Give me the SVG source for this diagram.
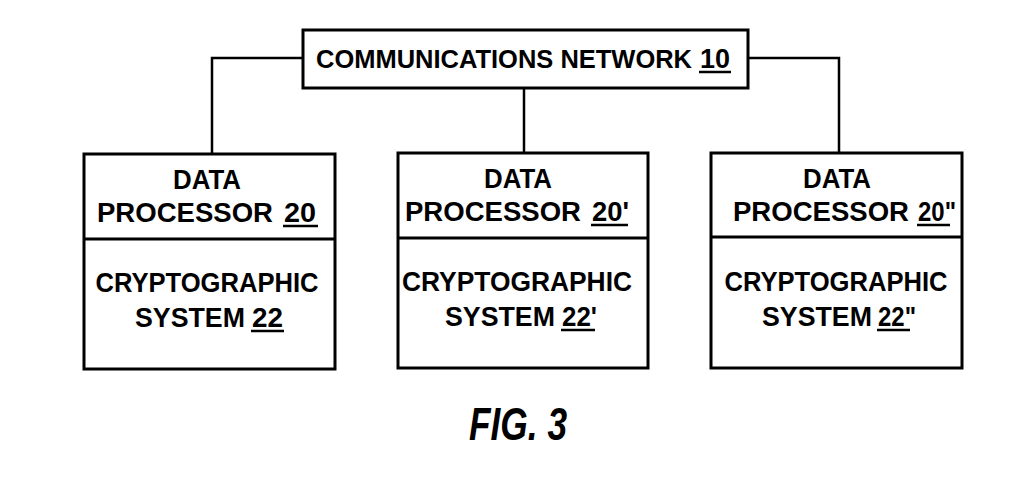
<svg xmlns="http://www.w3.org/2000/svg" width="1026" height="483" viewBox="0 0 1026 483">
<style>
.box{fill:none;stroke:#000;stroke-width:3}
.ln{fill:none;stroke:#000;stroke-width:2.5}
.u{stroke:#000;stroke-width:2.5}
.t{font-family:"Liberation Sans",Arial,sans-serif;font-weight:bold;font-size:27px;fill:#000;text-anchor:middle}
.s{font-family:"Liberation Sans",Arial,sans-serif;font-weight:bold;font-size:27px;fill:#000;text-anchor:start}
</style>
<rect width="1026" height="483" fill="#fff"/>
<g id="connectors">
<polyline class="ln" points="303,58 212,58 212,154"/>
<line class="ln" x1="524" y1="88" x2="524" y2="153"/>
<polyline class="ln" points="748,58 839,58 839,153"/>
</g>
<g id="network">
<rect class="box" x="303" y="30" width="445" height="58"/>
<text class="s" x="316" y="68" style="font-size:25.5px" textLength="376" lengthAdjust="spacingAndGlyphs">COMMUNICATIONS NETWORK</text>
<text class="s" x="700" y="68" style="font-size:28px" textLength="30" lengthAdjust="spacingAndGlyphs">10</text>
<line class="u" x1="699" y1="72" x2="731" y2="72"/>
</g>
<g id="dp20">
<rect class="box" x="84" y="154" width="251" height="215"/>
<line class="box" x1="84" y1="239" x2="335" y2="239"/>
<text class="t" x="207" y="189" textLength="68" lengthAdjust="spacingAndGlyphs">DATA</text>
<text class="s" x="97" y="222" textLength="176" lengthAdjust="spacingAndGlyphs">PROCESSOR</text>
<text class="s" x="284" y="222" textLength="32" lengthAdjust="spacingAndGlyphs">20</text>
<line class="u" x1="283" y1="226" x2="318" y2="226"/>
<text class="t" x="207" y="292" textLength="223" lengthAdjust="spacingAndGlyphs">CRYPTOGRAPHIC</text>
<text class="s" x="135" y="327" textLength="110" lengthAdjust="spacingAndGlyphs">SYSTEM</text>
<text class="s" x="252" y="327" textLength="31" lengthAdjust="spacingAndGlyphs">22</text>
<line class="u" x1="251" y1="331" x2="284" y2="331"/>
</g>
<g id="dp20p">
<rect class="box" x="398" y="153" width="250" height="215"/>
<line class="box" x1="398" y1="238" x2="648" y2="238"/>
<text class="t" x="518" y="188" textLength="68" lengthAdjust="spacingAndGlyphs">DATA</text>
<text class="s" x="405" y="221" textLength="176" lengthAdjust="spacingAndGlyphs">PROCESSOR</text>
<text class="s" x="592" y="221" textLength="37" lengthAdjust="spacingAndGlyphs">20'</text>
<line class="u" x1="591" y1="225" x2="628" y2="225"/>
<text class="t" x="517" y="291" textLength="230" lengthAdjust="spacingAndGlyphs">CRYPTOGRAPHIC</text>
<text class="s" x="445" y="326" textLength="110" lengthAdjust="spacingAndGlyphs">SYSTEM</text>
<text class="s" x="562" y="326" textLength="35" lengthAdjust="spacingAndGlyphs">22'</text>
<line class="u" x1="561" y1="330" x2="595" y2="330"/>
</g>
<g id="dp20pp">
<rect class="box" x="711" y="153" width="251" height="215"/>
<line class="box" x1="711" y1="237" x2="962" y2="237"/>
<text class="t" x="837" y="188" textLength="68" lengthAdjust="spacingAndGlyphs">DATA</text>
<text class="s" x="733" y="221" textLength="176" lengthAdjust="spacingAndGlyphs">PROCESSOR</text>
<text class="s" x="918" y="221" textLength="38" lengthAdjust="spacingAndGlyphs">20"</text>
<line class="u" x1="917" y1="225" x2="950" y2="225"/>
<text class="t" x="836" y="291" textLength="223" lengthAdjust="spacingAndGlyphs">CRYPTOGRAPHIC</text>
<text class="s" x="762" y="326" textLength="110" lengthAdjust="spacingAndGlyphs">SYSTEM</text>
<text class="s" x="878" y="326" textLength="38" lengthAdjust="spacingAndGlyphs">22"</text>
<line class="u" x1="877" y1="330" x2="910" y2="330"/>
</g>
<g id="caption">
<text x="518" y="440" font-family="Liberation Sans,Arial,sans-serif" font-weight="bold" font-style="italic" font-size="46" text-anchor="middle" textLength="98" lengthAdjust="spacingAndGlyphs">FIG. 3</text>
</g>
</svg>
